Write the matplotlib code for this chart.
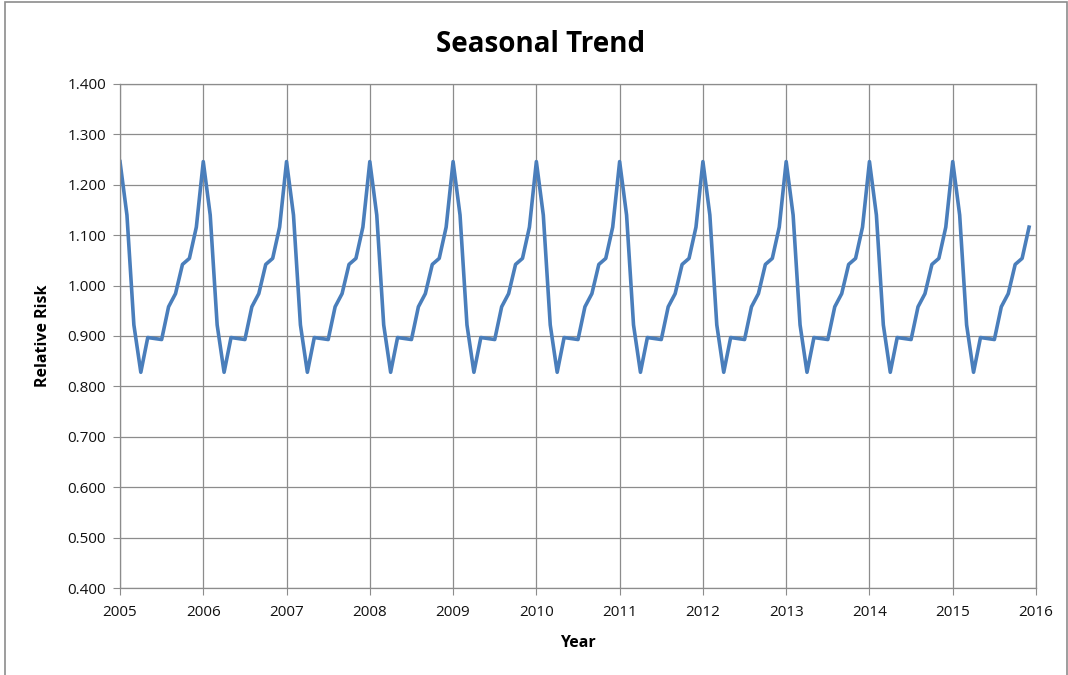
import numpy as np
import matplotlib.pyplot as plt
from matplotlib.patches import Rectangle

# monthly relative risk, one seasonal cycle (Jan..Dec), repeated each year
month_risk = [1.246, 1.140, 0.922, 0.828, 0.897, 0.895, 0.893,
              0.958, 0.984, 1.042, 1.054, 1.116]
years = list(range(2005, 2016))

t = []
risk = []
for y in years:
    for m, r in enumerate(month_risk):
        t.append(y + m / 12)
        risk.append(r)

plt.rcParams['font.family'] = ['Open Sans', 'DejaVu Sans']

fig = plt.figure(figsize=(10.68, 6.75), dpi=100)
ax = fig.add_axes([120 / 1068, 1 - 588 / 675, (1036 - 120) / 1068, (588 - 84) / 675])

ax.plot(t, risk, color='#4a7ebb', lw=2.6, solid_joinstyle='round')

ax.set_xlim(2005, 2016)
ax.set_ylim(0.4, 1.4)
ax.set_xticks(range(2005, 2017))
ax.set_yticks(np.arange(0.4, 1.401, 0.1))
ax.set_yticklabels([f'{v:.3f}' for v in np.arange(0.4, 1.401, 0.1)])
ax.grid(True, color='#8c8c8c', lw=0.9)
ax.set_axisbelow(True)
for s in ax.spines.values():
    s.set_color('#8c8c8c')
    s.set_linewidth(0.9)
ax.tick_params(axis='both', color='#8c8c8c', length=5, labelsize=11, labelcolor='#111111')
ax.tick_params(axis='x', pad=7)
ax.tick_params(axis='y', pad=5)

ax.set_xlabel('Year', fontsize=11.5, fontweight='bold', labelpad=11)
ax.set_ylabel('Relative Risk', fontsize=11.5, fontweight='bold', labelpad=12)
fig.text(541 / 1068, 1 - 44 / 675, 'Seasonal Trend', fontsize=20, fontweight='bold',
         ha='center', va='center')

fig.patches.append(Rectangle((5 / 1068, -0.01), 1062 / 1068, 1 - 2 / 675 + 0.01,
                             transform=fig.transFigure, fill=False,
                             edgecolor='#8c8c8c', lw=1.2))

fig.savefig('out.png', dpi=100)
